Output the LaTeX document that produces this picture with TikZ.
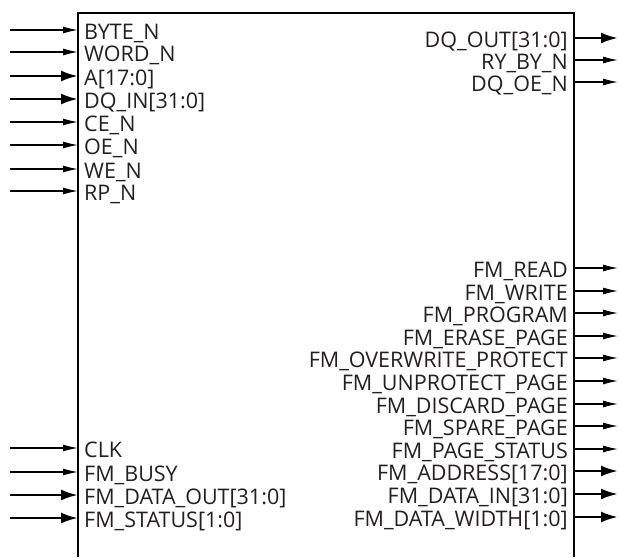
\documentclass[tikz,border=0pt]{standalone}
\usepackage{fontspec}
\setmainfont{Open Sans}
\usepackage{tikz}
\usetikzlibrary{arrows.meta}

\definecolor{txtgray}{HTML}{231F20}

\tikzset{
  sig/.style={line width=1.2pt,-{Latex[length=15pt,width=7pt]}},
  bus/.style={line width=2.6pt,-{Latex[length=17pt,width=11pt]}},
  inlbl/.style={anchor=west,inner xsep=6pt,inner ysep=0pt,text height=21pt,text depth=2pt,text=txtgray},
  outlbl/.style={anchor=east,inner xsep=6pt,inner ysep=0pt,text height=21pt,text depth=2pt,text=txtgray}
}

\begin{document}
\begin{tikzpicture}[x=1pt,y=-1pt,font=\fontsize{21.5}{24}\selectfont]
\useasboundingbox (0,0) rectangle (620,557);

% block outline, open at the bottom
\draw[line width=2pt] (78,557) -- (78,13) -- (574,13) -- (574,557);

% inputs
\foreach \nm/\txt/\yy/\st in {byte/BYTE\_N/30/sig, word/WORD\_N/52/sig,
    addr/A[17:0]/76/bus, dqin/DQ\_IN[31:0]/99/bus, ce/CE\_N/122/sig,
    oe/OE\_N/145/sig, we/WE\_N/169/sig, rp/RP\_N/191/sig,
    clk/CLK/448/sig, busy/FM\_BUSY/472/sig,
    fmdout/FM\_DATA\_OUT[31:0]/495/bus, fmstat/FM\_STATUS[1:0]/518/bus} {
  \node[inlbl] (\nm) at (78,\yy) {\txt};
  \coordinate (\nm-src) at (10,\yy);
  \draw[\st] (\nm-src) -- (\nm.west);
}

% outputs
\foreach \nm/\txt/\yy/\st in {dqout/DQ\_OUT[31:0]/38/bus, ryby/RY\_BY\_N/60/sig,
    dqoe/DQ\_OE\_N/82/sig,
    rd/FM\_READ/268/sig, wr/FM\_WRITE/291/sig, prog/FM\_PROGRAM/313/sig,
    erase/FM\_ERASE\_PAGE/336/sig, owp/FM\_OVERWRITE\_PROTECT/358/sig,
    unprot/FM\_UNPROTECT\_PAGE/381/sig, disc/FM\_DISCARD\_PAGE/404/sig,
    spare/FM\_SPARE\_PAGE/426/sig, pstat/FM\_PAGE\_STATUS/449/sig,
    fmaddr/FM\_ADDRESS[17:0]/471/bus, fmdin/FM\_DATA\_IN[31:0]/494/bus,
    fmwid/FM\_DATA\_WIDTH[1:0]/517/bus} {
  \node[outlbl] (\nm) at (574,\yy) {\txt};
  \coordinate (\nm-dst) at (618,\yy);
  \draw[\st] (\nm.east) -- (\nm-dst);
}

\end{tikzpicture}
\end{document}
